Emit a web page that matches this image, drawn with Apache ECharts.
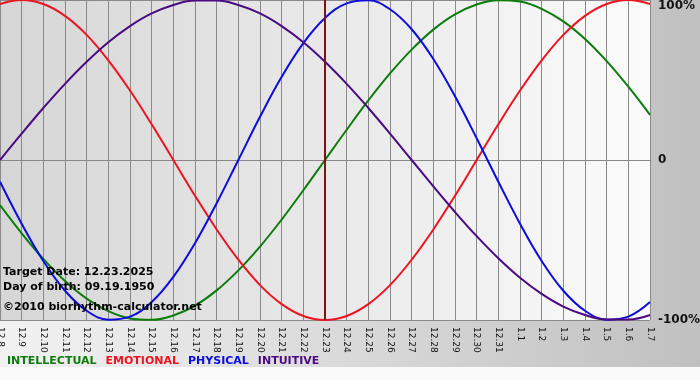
<!DOCTYPE html>
<html>
<head>
<meta charset="utf-8">
<script src="https://cdn.jsdelivr.net/npm/echarts@6/dist/echarts.min.js"></script>
<style>
  html, body { margin: 0; padding: 0; background: #fafafa; }
  #chart {
    width: 700px; height: 380px;
    background: linear-gradient(to right, #f2f2f2, #c0c0c0) top left / 100% 367px no-repeat, #fafafa;
  }
</style>
</head>
<body>
<div id="chart"></div>
<script>
// days shown on the x axis
const days = ['12.8', '12.9', '12.10', '12.11', '12.12', '12.13', '12.14', '12.15', '12.16', '12.17',
  '12.18', '12.19', '12.20', '12.21', '12.22', '12.23', '12.24', '12.25', '12.26', '12.27',
  '12.28', '12.29', '12.30', '12.31', '1.1', '1.2', '1.3', '1.4', '1.5', '1.6', '1.7'];

// values in percent, read per day
const intellectual = [-28.2, -45.8, -61.8, -75.6, -86.6, -94.5, -99.0, -99.9, -97.2, -91.0,
  -81.5, -69.0, -54.1, -37.2, -18.9, 0, 18.9, 37.2, 54.1, 69.0,
  81.5, 91.0, 97.2, 99.9, 99.0, 94.5, 86.6, 75.6, 61.8, 45.8, 28.2];
const emotional = [97.5, 100, 97.5, 90.1, 78.2, 62.3, 43.4, 22.3, 0, -22.3,
  -43.4, -62.3, -78.2, -90.1, -97.5, -100, -97.5, -90.1, -78.2, -62.3,
  -43.4, -22.3, 0, 22.3, 43.4, 62.3, 78.2, 90.1, 97.5, 100, 97.5];
const physical = [-13.6, -39.8, -63.1, -81.7, -94.2, -99.8, -97.9, -88.8, -73.1, -52.0,
  -27.0, 0, 27.0, 52.0, 73.1, 88.8, 97.9, 99.8, 94.2, 81.7,
  63.1, 39.8, 13.6, -13.6, -39.8, -63.1, -81.7, -94.2, -99.8, -97.9, -88.8];
const intuitive = [0, 16.5, 32.5, 47.6, 61.4, 73.6, 83.7, 91.6, 96.9, 99.7,
  99.7, 96.9, 91.6, 83.7, 73.6, 61.4, 47.6, 32.5, 16.5, 0,
  -16.5, -32.5, -47.6, -61.4, -73.6, -83.7, -91.6, -96.9, -99.7, -99.7, -96.9];

const targetDay = '12.23';
const yTicks = [-100, 0, 100];

const chart = echarts.init(document.getElementById('chart'));
const font = 'DejaVu Sans';

const colors = {
  INTELLECTUAL: '#0c7c0c',
  EMOTIONAL: '#ec1420',
  PHYSICAL: '#0c0cdc',
  INTUITIVE: '#4a0a82'
};

function line(name, data) {
  return {
    name: name,
    type: 'line',
    data: data,
    smooth: 0.4,
    showSymbol: false,
    lineStyle: { color: colors[name], width: 2 },
    itemStyle: { color: colors[name] },
    emphasis: { disabled: true }
  };
}

const option = {
  animation: false,
  backgroundColor: 'transparent',
  grid: {
    left: 0, right: 50, top: 0, bottom: 60,
    outerBoundsMode: 'none',
    containLabel: false,
    show: true,
    borderWidth: 0,
    backgroundColor: {
      type: 'linear', x: 0, y: 0, x2: 1, y2: 0,
      colorStops: [{ offset: 0, color: '#d6d6d6' }, { offset: 1, color: '#fbfbfb' }]
    }
  },
  title: [
    { text: 'Target Date: 12.23.2025', left: 3, top: 265 },
    { text: 'Day of birth: 09.19.1950', left: 3, top: 280 },
    { text: '©2010 biorhythm-calculator.net', left: 3, top: 300 }
  ].map(t => Object.assign(t, {
    padding: 0,
    textStyle: { fontFamily: font, fontSize: 11, fontWeight: 'bold', color: '#000', lineHeight: 14 }
  })),
  legend: {
    left: 2, top: 354, padding: 0,
    icon: 'none', itemWidth: 0, itemHeight: 14, itemGap: 4,
    selectedMode: false,
    textStyle: { fontFamily: font, fontSize: 11, fontWeight: 'bold' },
    data: Object.keys(colors).map(n => ({ name: n, textStyle: { color: colors[n] } }))
  },
  xAxis: {
    type: 'category',
    data: days,
    boundaryGap: false,
    axisLine: { lineStyle: { color: '#888', width: 1 } },
    axisTick: { show: true, length: 4, interval: 0, lineStyle: { color: '#888' } },
    axisLabel: {
      interval: 0, rotate: -90, margin: 7,
      fontFamily: font, fontSize: 9, color: '#111',
      hideOverlap: false
    },
    splitLine: { show: true, interval: 0, lineStyle: { color: '#8a8a8a', width: 1 } }
  },
  yAxis: {
    type: 'value',
    position: 'right',
    min: yTicks[0], max: yTicks[2], interval: 100,
    axisLine: { show: false },
    axisTick: { show: false },
    axisLabel: {
      margin: 8,
      fontFamily: font, fontSize: 12, fontWeight: 'bold', color: '#111',
      verticalAlignMaxLabel: 'top',
      formatter: v => (v === 0 ? '0' : v + '%')
    },
    splitLine: { show: true, lineStyle: { color: '#8a8a8a', width: 1 } }
  },
  series: [
    line('INTELLECTUAL', intellectual),
    line('EMOTIONAL', emotional),
    line('PHYSICAL', physical),
    line('INTUITIVE', intuitive),
    {
      name: 'target',
      type: 'line',
      data: [],
      z: 10,
      markLine: {
        silent: true,
        symbol: 'none',
        label: { show: false },
        lineStyle: { color: '#7c1414', width: 2, type: 'solid' },
        data: [{ xAxis: targetDay }]
      }
    }
  ]
};

chart.setOption(option);
</script>
</body>
</html>
